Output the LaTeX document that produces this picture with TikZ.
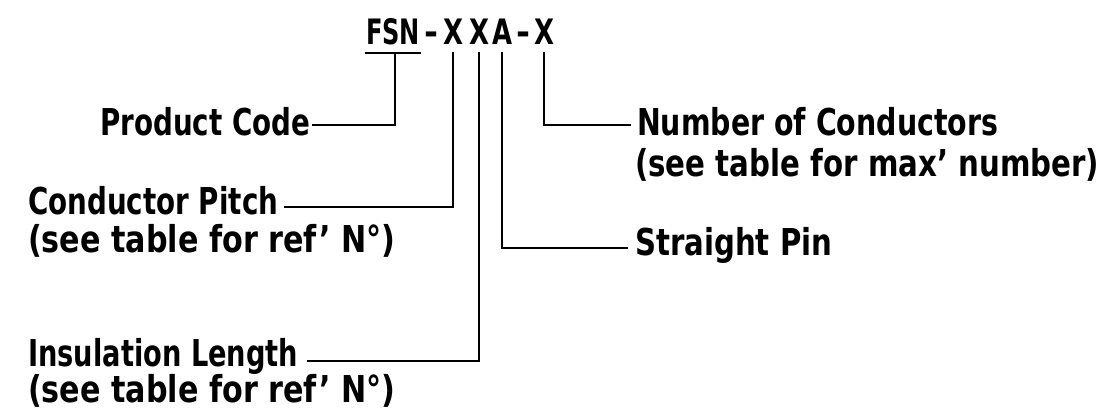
\documentclass[tikz,border=0pt]{standalone}
\usepackage{fontspec}
\usepackage{graphicx}
\newfontfamily\plotfont{DejaVu Sans}
\newcommand\fw[2]{\resizebox{#1pt}{\height}{#2}}
\begin{document}
\begin{tikzpicture}[x=1pt,y=-1pt,
  txt/.style={inner sep=0pt, font={\plotfont\bfseries\fontsize{37pt}{40pt}\selectfont}},
  lbl/.style={txt, anchor=base west},
  ttl/.style={inner sep=0pt, font={\plotfont\bfseries\fontsize{35pt}{40pt}\selectfont}, anchor=base, text height=25pt, text depth=8pt},
  lead/.style={line width=2.2pt, line cap=rect}]
\useasboundingbox (0,0) rectangle (1106,414);
% title
\node[ttl] (fsn) at (393,45) {\fw{54}{FSN}};
\node[ttl] (d1) at (431,45) {\fw{14}{-}};
\node[ttl] (x1) at (453,45) {\fw{20}{X}};
\node[ttl] (x2) at (479,45) {\fw{20}{X}};
\node[ttl] (a) at (502,45) {\fw{20}{A}};
\node[ttl] (d2) at (523,45) {\fw{14}{-}};
\node[ttl] (x3) at (544,45) {\fw{20}{X}};
% labels
\node[lbl] (pc) at (100,136) {\fw{210}{Product Code}};
\node[lbl] (cp1) at (28,215) {\fw{250}{Conductor Pitch}};
\node[lbl] (cp2) at (28,252) {\fw{367}{(see table for ref’ N°)}};
\node[lbl] (il1) at (28,366) {\fw{270}{Insulation Length}};
\node[lbl] (il2) at (28,402) {\fw{367}{(see table for ref’ N°)}};
\node[lbl] (sp) at (635,255) {\fw{197}{Straight Pin}};
\node[lbl] (nc1) at (637,136) {\fw{361}{Number of Conductors}};
\node[lbl] (nc2) at (635,177) {\fw{464}{(see table for max’ number)}};
% junctions
\coordinate (pcj) at (395,125);
\coordinate (cpj) at (453,207);
\coordinate (ilj) at (479,361);
\coordinate (spj) at (502,248);
\coordinate (ncj) at (545,125);
% leaders
\draw[lead] (fsn.south west) -- (fsn.south east);
\draw[lead] (fsn.south -| pcj) -- (pcj) -- ([xshift=3pt]pc.east |- pcj);
\draw[lead] (x1.south) -- (x1.south |- cpj) -- ([xshift=7pt]cp1.east |- cpj);
\draw[lead] (x2.south) -- (x2.south |- ilj) -- ([xshift=10pt]il1.east |- ilj);
\draw[lead] (a.south) -- (a.south |- spj) -- ([xshift=-8pt]sp.west |- spj);
\draw[lead] (x3.south) -- (x3.south |- ncj) -- ([xshift=-7pt]nc1.west |- ncj);
\end{tikzpicture}
\end{document}
